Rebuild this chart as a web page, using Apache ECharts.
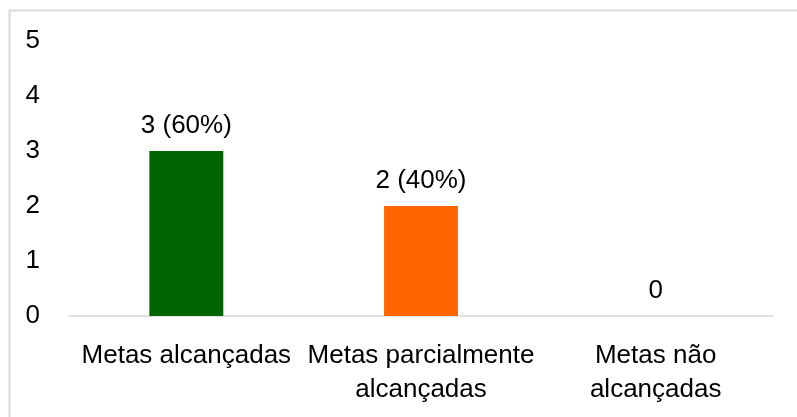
<!DOCTYPE html>
<html>
<head>
<meta charset="utf-8">
<script src="https://cdn.jsdelivr.net/npm/echarts@6/dist/echarts.min.js"></script>
<style>
  html, body { margin: 0; padding: 0; background: #fff; }
  #chart { width: 797px; height: 417px; }
</style>
</head>
<body>
<div id="chart"></div>
<script>
  var categories = ['Metas alcançadas', 'Metas parcialmente\nalcançadas', 'Metas não\nalcançadas'];
  var values = [3, 2, 0];
  var percents = [60, 40, null];
  var barColors = ['#006400', '#ff6600', '#a5a5a5'];

  var myChart = echarts.init(document.getElementById('chart'));
  var font = '"Liberation Sans", Arial, sans-serif';

  myChart.setOption({
    animation: false,
    graphic: [{
      type: 'rect',
      shape: { x: 9.5, y: 10.5, width: 820, height: 430 },
      style: { fill: 'none', stroke: '#d9d9d9', lineWidth: 2 },
      z: -1
    }],
    grid: { left: 69, right: 24, top: 41, bottom: 101 },
    xAxis: {
      type: 'category',
      data: categories,
      axisLine: { lineStyle: { color: '#d9d9d9', width: 1.5 } },
      axisTick: { show: false },
      axisLabel: {
        color: '#000', fontFamily: font, fontSize: 26,
        lineHeight: 34, margin: 23, interval: 0
      }
    },
    yAxis: {
      type: 'value',
      min: 0, max: 5, interval: 1,
      axisLine: { show: false },
      axisTick: { show: false },
      splitLine: { show: false },
      axisLabel: { color: '#000', fontFamily: font, fontSize: 26, margin: 29 }
    },
    series: [{
      type: 'bar',
      barWidth: '31.5%',
      data: values.map(function (v, i) {
        return { value: v, itemStyle: { color: barColors[i] } };
      }),
      label: {
        show: true,
        position: 'top',
        distance: 12,
        color: '#000', fontFamily: font, fontSize: 26,
        formatter: function (p) {
          var pc = percents[p.dataIndex];
          return pc == null ? String(p.value) : p.value + ' (' + pc + '%)';
        }
      }
    }]
  });
</script>
</body>
</html>
